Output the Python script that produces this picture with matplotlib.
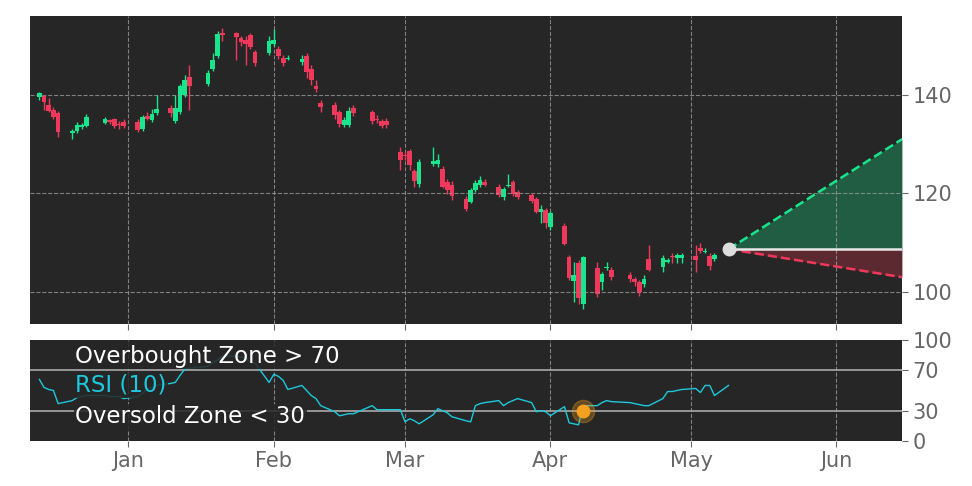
import numpy as np
import pandas as pd
import matplotlib
matplotlib.use("Agg")
import matplotlib.pyplot as plt
import matplotlib.dates as mdates

# OHLC candles, one per trading day from 2021-12-13
opens = [139.5, 139.8, 138.0, 137.0, 136.4, 132.3, 132.6, 133.4, 133.7, 134.3, 134.8, 135.0, 134.0, 134.5, 134.5,
         133.0, 135.8, 134.9, 136.4, 137.3, 134.6, 136.6, 140.0, 143.7, 142.2, 145.2, 147.9, 152.5, 152.5, 151.5,
         151.2, 152.2, 148.6, 148.4, 150.4, 149.3, 147.4, 147.3, 146.6, 147.8, 145.2, 141.8, 138.4, 138.0,
         136.6, 133.9, 133.9, 137.3, 136.6, 135.1, 134.7, 134.7, 128.5, 127.8,
         128.7, 124.6, 121.9, 125.9, 125.9, 124.9, 122.4, 121.7, 118.8, 118.2, 120.6, 121.7, 122.4, 121.4,
         119.2, 121.6, 122.3, 120.2, 119.6, 118.9, 116.3, 116.6, 113.1, 113.4, 107.1, 102.3, 105.9, 97.6,
         104.8, 102.1, 104.8, 104.4, 103.4, 102.6, 102.0, 101.6, 106.6, 105.1, 106.1, 107.2, 106.8, 106.8,
         107.4, 109.0, 108.2, 107.4, 106.6, 108.3]
closes = [140.3, 138.5, 136.8, 135.6, 132.5, 132.6, 133.9, 133.9, 135.5, 135.0, 134.4, 133.7, 133.9, 133.7, 132.8,
          135.5, 135.2, 136.1, 137.1, 136.4, 137.3, 141.7, 143.0, 141.7, 144.4, 147.0, 152.4, 152.1, 151.8, 150.8,
          150.4, 149.8, 146.4, 151.0, 151.2, 147.9, 146.4, 147.5, 147.2, 144.7, 143.0, 141.2, 137.6, 135.9,
          134.1, 134.9, 136.8, 136.3, 134.6, 134.8, 133.7, 133.9, 126.8, 127.6,
          125.8, 122.6, 126.3, 126.6, 126.8, 121.4, 120.6, 119.4, 116.8, 120.7, 122.1, 122.8, 121.8, 119.7,
          120.8, 121.8, 119.9, 119.3, 118.4, 116.3, 116.8, 114.0, 116.0, 109.7, 102.9, 103.4, 98.8, 107.0,
          99.6, 103.6, 105.1, 103.0, 102.6, 102.1, 100.0, 102.7, 104.5, 106.9, 106.4, 107.0, 107.6, 107.6,
          106.4, 108.3, 108.4, 105.2, 107.6, 108.7]
highs = [140.6, 140.0, 139.3, 137.5, 136.8, 133.0, 134.5, 134.2, 136.2, 135.5, 135.2, 135.3, 134.6, 135.2, 135.0,
         136.0, 136.5, 137.2, 140.0, 138.0, 140.0, 142.3, 144.0, 146.0, 145.0, 148.5, 153.0, 153.5, 152.8, 152.0,
         152.0, 152.6, 149.0, 152.0, 153.3, 150.0, 148.0, 148.0, 148.0, 148.5, 146.0, 143.0, 139.0, 138.5,
         137.0, 135.5, 137.5, 138.0, 137.0, 136.0, 135.2, 135.3, 129.5, 128.5,
         129.0, 125.0, 127.0, 129.5, 128.0, 125.5, 123.0, 122.5, 119.5, 121.0, 122.8, 123.5, 123.0, 122.0,
         121.3, 124.0, 122.8, 120.6, 120.0, 119.3, 117.6, 117.0, 116.5, 114.0, 107.5, 106.0, 106.5, 107.2,
         106.0, 104.0, 106.0, 105.0, 104.0, 103.0, 102.5, 103.5, 109.5, 107.5, 106.8, 108.0, 108.0, 108.0,
         109.5, 110.0, 109.0, 108.0, 108.0, 110.0]
lows = [139.0, 137.0, 136.5, 135.2, 131.5, 131.0, 132.3, 133.0, 133.5, 134.0, 134.0, 133.3, 133.0, 133.3, 132.5,
        132.7, 134.8, 134.5, 136.0, 135.5, 134.2, 136.2, 139.5, 137.0, 141.8, 144.8, 147.5, 151.0, 147.0, 150.0,
        146.0, 149.3, 145.8, 148.0, 150.0, 147.2, 145.8, 147.0, 146.0, 143.5, 142.0, 140.5, 136.5, 135.2,
        133.5, 133.5, 133.5, 135.8, 134.0, 134.2, 133.2, 133.2, 124.8, 126.8,
        124.8, 121.2, 121.3, 125.5, 125.3, 121.0, 119.8, 118.6, 116.5, 118.0, 120.2, 121.3, 121.5, 119.3,
        118.6, 121.2, 119.5, 118.9, 118.0, 116.0, 114.0, 113.0, 112.5, 109.5, 102.5, 98.0, 97.5, 96.5,
        99.0, 100.5, 104.5, 102.5, 102.0, 101.2, 99.2, 101.0, 104.2, 104.0, 105.8, 105.8, 105.8, 105.8,
        104.0, 108.0, 108.0, 104.5, 106.3, 108.5]

rsi = [61, 53, 51, 50, 37, 40, 43, 44, 45, 45, 44, 44, 44, 42, 44, 47, 51, 53, 55, 57, 58, 65, 71, 72, 74,
       78, 80, 84, 84, 83, 82, 78, 77, 58, 66, 64, 60, 51, 55, 50, 45, 42, 35, 29, 25, 26, 27, 27, 35, 31,
       31, 31, 31, 19, 22, 20, 17, 26, 32, 30, 28, 24, 20, 19, 35, 37, 38, 40, 35, 38, 40, 42, 38, 29, 30,
       29, 25, 34, 18, 17, 16, 35, 35, 38, 40, 39, 38, 37, 36, 35, 35, 42, 49, 49, 50, 51, 52, 48, 55, 55,
       45, 55]
signal_index = 81
signal_value = 30

forecast_end = "2022-06-15"
forecast_high = 131.0
forecast_low = 103.0

holidays = pd.to_datetime(["2021-12-24", "2022-01-17", "2022-02-21", "2022-04-15"])
days = pd.bdate_range("2021-12-13", "2022-05-31")
days = days[~days.isin(holidays)][:len(closes)]
x = mdates.date2num(days)

BG = "#262626"
UP = "#19e68c"
DOWN = "#f0395a"
TXT = "#666666"

fig = plt.figure(figsize=(9.72, 4.86), dpi=100)
ax = fig.add_axes([30 / 972, 1 - 324 / 486, 872 / 972, 308 / 486])
ax2 = fig.add_axes([30 / 972, 1 - 441 / 486, 872 / 972, 101 / 486])

for a in (ax, ax2):
    a.set_facecolor(BG)
    for s in a.spines.values():
        s.set_visible(False)
    a.yaxis.tick_right()
    a.tick_params(colors=TXT, labelsize=15, length=4)
    a.xaxis.set_major_locator(mdates.MonthLocator())
    a.xaxis.set_major_formatter(mdates.DateFormatter("%b"))
    a.grid(True, color="#999999", ls="--", lw=0.8, alpha=0.8)
    a.set_xlim(mdates.datestr2num("2021-12-11"), mdates.datestr2num(forecast_end))

# candles
for i in range(len(closes)):
    c = UP if closes[i] >= opens[i] else DOWN
    ax.vlines(x[i], lows[i], highs[i], color=c, lw=1)
    ax.bar(x[i], abs(closes[i] - opens[i]) or 0.25, bottom=min(opens[i], closes[i]),
           width=1.0, color=c, linewidth=0)

# forecast cone
x0 = x[-1]
x1 = mdates.datestr2num(forecast_end)
last = closes[-1]
ax.fill_between([x0, x1], [last, last], [last, forecast_high], color="#1f6b4a", alpha=0.8, lw=0)
ax.fill_between([x0, x1], [last, forecast_low], [last, last], color="#6b2a33", alpha=0.8, lw=0)
ax.plot([x0, x1], [last, forecast_high], color=UP, ls="--", lw=1.8)
ax.plot([x0, x1], [last, forecast_low], color=DOWN, ls="--", lw=1.8)
ax.plot([x0, x1], [last, last], color="#e8e8e8", lw=1.8)
ax.plot(x0, last, "o", color="#dddddd", ms=9, zorder=5)

ax.set_ylim(93.5, 156)
ax.set_yticks([100, 120, 140])
ax.tick_params(axis="x", labelbottom=False)

# RSI panel
ax2.set_ylim(0, 100)
ax2.set_yticks([0, 30, 70, 100])
ax2.grid(False, axis="y")
ax2.axhline(70, color="#aaaaaa", lw=1.2)
ax2.axhline(30, color="#aaaaaa", lw=1.2)
ax2.plot(x[:len(rsi)], rsi, color="#1ec8dc", lw=1)
ax2.plot(x[signal_index], signal_value, "o", color="#f5a01e", ms=16, alpha=0.3)
ax2.plot(x[signal_index], signal_value, "o", color="#f5a01e", ms=9)

box = dict(facecolor=BG, edgecolor="none", alpha=0.85, pad=1)
ax2.text(0.052, 0.84, "Overbought Zone > 70", transform=ax2.transAxes, color="white",
         fontsize=16.5, va="center", bbox=box)
ax2.text(0.052, 0.55, "RSI (10)", transform=ax2.transAxes, color="#1ec8dc",
         fontsize=16.5, va="center", bbox=box)
ax2.text(0.052, 0.24, "Oversold Zone < 30", transform=ax2.transAxes, color="white",
         fontsize=16.5, va="center", bbox=box)

fig.savefig("out.png", dpi=100, facecolor="white")
